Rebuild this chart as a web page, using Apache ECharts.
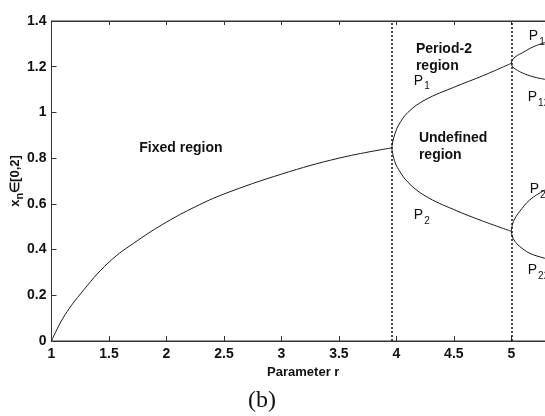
<!DOCTYPE html>
<html>
<head>
<meta charset="utf-8">
<script src="https://cdn.jsdelivr.net/npm/echarts@6/dist/echarts.min.js"></script>
<style>
  html, body { margin: 0; padding: 0; background: #fff; }
  #chart { width: 545px; height: 416px; }
</style>
</head>
<body>
<div id="chart"></div>
<script>
// fixed-point branch
var fixedR = [1, 1.1, 1.25, 1.5, 1.75, 2, 2.25, 2.5, 3, 3.5, 3.96];
var fixedX = [0, 0.1, 0.205, 0.345, 0.44, 0.52, 0.587, 0.643, 0.73, 0.80, 0.845];
// period-2 branches
var p1R = [3.96, 3.97, 3.99, 4.02, 4.1, 4.25, 4.5, 4.75, 5.0];
var p1X = [0.845, 0.875, 0.91, 0.945, 1.0, 1.055, 1.11, 1.16, 1.215];
var p2R = [3.96, 3.97, 3.99, 4.02, 4.1, 4.25, 4.5, 4.75, 5.0];
var p2X = [0.845, 0.815, 0.78, 0.75, 0.695, 0.635, 0.575, 0.525, 0.48];
// period-4 branches
var p11R = [5.0, 5.01, 5.04, 5.1, 5.19, 5.29, 5.38];
var p11X = [1.215, 1.23, 1.245, 1.262, 1.287, 1.305, 1.318];
var p12R = [5.0, 5.01, 5.04, 5.1, 5.19, 5.29, 5.38];
var p12X = [1.215, 1.2, 1.188, 1.172, 1.156, 1.145, 1.138];
var p21R = [5.0, 5.01, 5.03, 5.07, 5.16, 5.29, 5.38];
var p21X = [0.48, 0.51, 0.535, 0.565, 0.617, 0.66, 0.685];
var p22R = [5.0, 5.01, 5.03, 5.07, 5.16, 5.29, 5.38];
var p22X = [0.48, 0.455, 0.437, 0.415, 0.384, 0.362, 0.35];
// bifurcation lines
var bifR = [3.96, 5.0];

// text annotations [r, x, text, align]
var notes = [
  [2.126, 0.844, 'Fixed region', 'center'],
  [4.17, 1.24, 'Period-2\nregion', 'left'],
  [4.196, 0.851, 'Undefined\nregion', 'left']
];
var subNotes = [
  [4.152, 1.139, '1'],
  [4.152, 0.551, '2'],
  [5.152, 1.334, '11'],
  [5.143, 1.067, '12'],
  [5.16, 0.665, '21'],
  [5.143, 0.31, '22']
];

function zip(a, b) {
  return a.map(function (v, i) { return [v, b[i]]; });
}

var lineStyle = {color: '#1a1a1a', width: 1};
function branch(r, x, extra) {
  var s = {
    type: 'line',
    data: zip(r, x),
    smooth: 0.4,
    showSymbol: false,
    symbol: 'none',
    lineStyle: lineStyle,
    animation: false
  };
  if (extra) Object.assign(s, extra);
  return s;
}

var labelFont = {color: '#111', fontFamily: 'Liberation Sans', fontWeight: 'bold', fontSize: 14};

var option = {
  animation: false,
  title: {
    text: '(b)',
    left: 243,
    top: 384,
    textStyle: {fontFamily: 'Liberation Serif', fontWeight: 'normal', fontSize: 24, color: '#111'}
  },
  grid: {
    left: 51.5, top: 21, bottom: 75, right: -10,
    containLabel: false, outerBoundsMode: 'none',
    show: true, borderColor: '#333', borderWidth: 1
  },
  xAxis: [{
    type: 'value', min: 1, max: 5.38, interval: 0.5,
    name: 'Parameter r', nameLocation: 'middle', nameGap: 19,
    nameTextStyle: {color: '#111', fontFamily: 'Liberation Sans', fontWeight: 'bold', fontSize: 13},
    axisLine: {lineStyle: {color: '#333'}},
    axisTick: {inside: true, length: 5, lineStyle: {color: '#333'}},
    axisLabel: Object.assign({margin: 6, showMaxLabel: false}, labelFont),
    splitLine: {show: false}
  }, {
    type: 'value', min: 1, max: 5.38, interval: 0.5, position: 'top',
    axisLine: {lineStyle: {color: '#333'}},
    axisTick: {inside: true, length: 4, lineStyle: {color: '#333'}},
    axisLabel: {show: false},
    splitLine: {show: false}
  }],
  yAxis: [{
    type: 'value', min: 0, max: 1.4, interval: 0.2,
    name: '{a|x}{b|n}{a|\u2208[0,2]}', nameLocation: 'middle', nameGap: 26,
    nameMoveOverlap: false,
    nameTextStyle: {
      rich: {
        a: {fontFamily: 'Liberation Sans', fontWeight: 'bold', fontSize: 13, color: '#111'},
        b: {fontFamily: 'Liberation Sans', fontWeight: 'bold', fontSize: 11, color: '#111', padding: [9, 0, 0, 0]}
      }
    },
    axisLine: {lineStyle: {color: '#333'}},
    axisTick: {inside: true, length: 5, lineStyle: {color: '#333'}},
    axisLabel: Object.assign({margin: 5, formatter: function (v) { return String(+v.toFixed(1)); }}, labelFont),
    splitLine: {show: false}
  }],
  series: [
    branch(fixedR, fixedX, {
      markLine: {
        silent: true,
        symbol: 'none',
        label: {show: false},
        lineStyle: {type: [2, 2], color: '#111', width: 1.5},
        data: bifR.map(function (r) { return {xAxis: r}; })
      }
    }),
    branch(p1R, p1X),
    branch(p2R, p2X),
    branch(p11R, p11X),
    branch(p12R, p12X),
    branch(p21R, p21X),
    branch(p22R, p22X)
  ]
};

var chart = echarts.init(document.getElementById('chart'));
chart.setOption(option);

// place annotations through the axes
var g = [];
notes.forEach(function (n) {
  var p = chart.convertToPixel({gridIndex: 0}, [n[0], n[1]]);
  g.push({
    type: 'text', x: p[0], y: p[1],
    style: {
      text: n[2], align: n[3], verticalAlign: 'middle',
      font: 'bold 14px "Liberation Sans"', lineHeight: 17, fill: '#111'
    }
  });
});
subNotes.forEach(function (n) {
  var p = chart.convertToPixel({gridIndex: 0}, [n[0], n[1]]);
  g.push({
    type: 'text', x: p[0], y: p[1],
    style: {
      text: '{p|P}{s|' + n[2] + '}', align: 'left', verticalAlign: 'middle',
      rich: {
        p: {fontFamily: 'Liberation Sans', fontSize: 14, fill: '#111'},
        s: {fontFamily: 'Liberation Sans', fontSize: 10, fill: '#111', padding: [12, 0, 0, 1]}
      }
    }
  });
});
chart.setOption({graphic: g});
</script>
</body>
</html>
